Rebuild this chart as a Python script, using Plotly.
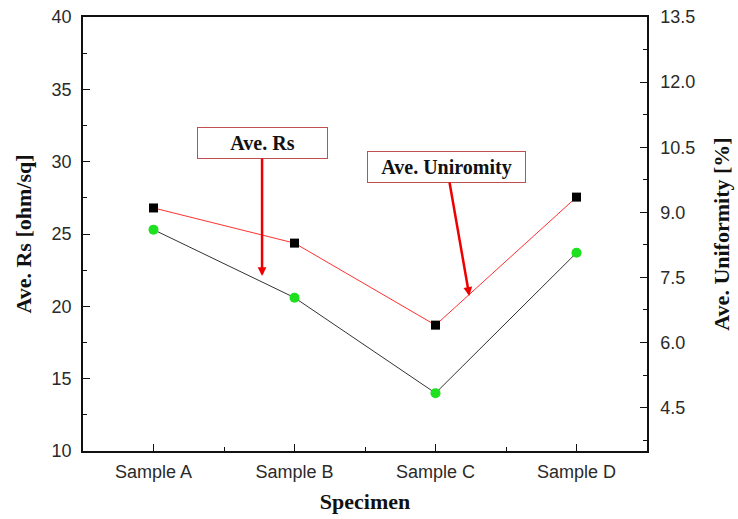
import plotly.graph_objects as go

categories = ["Sample A", "Sample B", "Sample C", "Sample D"]
ave_rs = [25.3, 20.6, 14.0, 23.7]
ave_uniformity = [9.10, 8.29, 6.40, 9.35]
rs_ticks = [10, 15, 20, 25, 30, 35, 40]
uni_ticks = [4.5, 6.0, 7.5, 9.0, 10.5, 12.0, 13.5]

xpos = list(range(len(categories)))

fig = go.Figure()
fig.add_trace(go.Scatter(
    x=xpos, y=ave_rs, mode="lines+markers", name="Ave. Rs",
    line=dict(color="#333333", width=1),
    marker=dict(symbol="circle", size=10, color="#1ee01e"),
    yaxis="y"))
fig.add_trace(go.Scatter(
    x=xpos, y=ave_uniformity, mode="lines+markers", name="Ave. Uniformity",
    line=dict(color="#ff3030", width=1),
    marker=dict(symbol="square", size=9, color="#000000"),
    yaxis="y2"))

tickfont = dict(family="Liberation Sans, Arial", size=18, color="#2a2a2a")
titlefont = dict(family="Liberation Serif, Times New Roman", size=22, color="#111111")

fig.update_layout(
    width=738, height=519,
    margin=dict(l=83, r=91, t=17, b=68, autoexpand=False),
    paper_bgcolor="white", plot_bgcolor="white",
    showlegend=False,
    xaxis=dict(
        range=[-0.5, 3.5], tickvals=xpos, ticktext=categories,
        ticks="inside", ticklen=7, tickwidth=1, tickcolor="#111",
        showline=True, linecolor="#111", linewidth=1.5, mirror=True,
        showgrid=False, zeroline=False, tickfont=tickfont,
        ticklabelstandoff=4, automargin=False,
        minor=dict(tickvals=[0.5, 1.5, 2.5], ticks="inside", ticklen=4, tickcolor="#111"),
        title=dict(text="<b>Specimen</b>", font=titlefont, standoff=12),
    ),
    yaxis=dict(
        range=[10, 40], tickvals=rs_ticks,
        ticks="inside", ticklen=7, tickwidth=1, tickcolor="#111",
        showline=True, linecolor="#111", linewidth=1.5,
        showgrid=False, zeroline=False, tickfont=tickfont,
        ticklabelstandoff=6, automargin=False,
        minor=dict(dtick=2.5, tick0=10, ticks="inside", ticklen=4, tickcolor="#111"),
        title=dict(text="<b>Ave. Rs [ohm/sq]</b>", font=titlefont, standoff=14),
    ),
    yaxis2=dict(
        range=[3.5, 13.5], tickvals=uni_ticks, tickformat=".1f",
        overlaying="y", side="right", anchor="x",
        ticks="inside", ticklen=7, tickwidth=1, tickcolor="#111",
        showline=True, linecolor="#111", linewidth=1.5,
        showgrid=False, zeroline=False, tickfont=tickfont,
        ticklabelstandoff=8, automargin=False,
        minor=dict(dtick=0.75, tick0=3.75, ticks="inside", ticklen=4, tickcolor="#111"),
        title=dict(text="<b>Ave. Uniformity [%]</b>", font=titlefont, standoff=19),
    ),
)

boxfont = dict(family="Liberation Serif, Times New Roman", size=20, color="#111111")
fig.add_annotation(
    x=0.77, y=22.1, xref="x", yref="y",
    text="<b>Ave. Rs</b>", font=boxfont,
    showarrow=True, ax=0, ay=-133,
    arrowcolor="#ee0000", arrowwidth=2.5, arrowhead=2, arrowsize=0.7,
    bordercolor="#c05050", borderwidth=1, bgcolor="white",
    width=127, height=28, borderpad=1)
fig.add_annotation(
    x=2.24, y=20.72, xref="x", yref="y",
    text="<b>Ave. Uniromity</b>", font=boxfont,
    showarrow=True, ax=-22.5, ay=-129,
    arrowcolor="#ee0000", arrowwidth=2.5, arrowhead=2, arrowsize=0.7,
    bordercolor="#c05050", borderwidth=1, bgcolor="white",
    width=155, height=28, borderpad=1)

fig.write_html("out.html")
